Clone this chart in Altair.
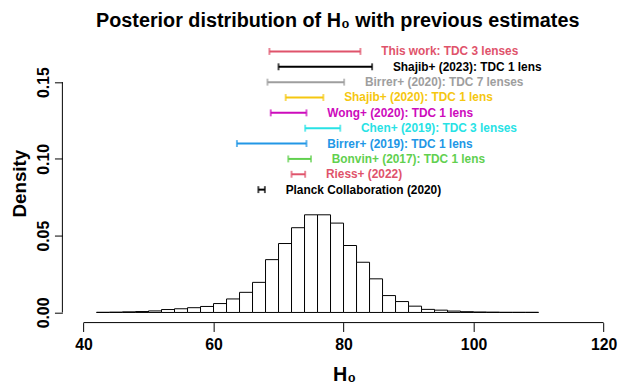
import altair as alt
import pandas as pd

# ---- histogram of the H0 posterior (bin edges, density) ----
bin_start = [42, 44, 46, 48, 50, 52, 54, 56, 58, 60, 62, 64, 66, 68, 70, 72, 74,
             76, 78, 80, 82, 84, 86, 88, 90, 92, 94, 96, 98, 100, 102, 104, 106, 108]
bin_end = [44, 46, 48, 50, 52, 54, 56, 58, 60, 62, 64, 66, 68, 70, 72, 74, 76,
           78, 80, 82, 84, 86, 88, 90, 92, 94, 96, 98, 100, 102, 104, 106, 108, 110]
density = [0.0001, 0.0002, 0.0004, 0.0006, 0.0010, 0.0019, 0.0024, 0.0031, 0.0039,
           0.0058, 0.0088, 0.0131, 0.0196, 0.0344, 0.0449, 0.0552, 0.0636, 0.0636,
           0.0582, 0.0436, 0.0327, 0.0219, 0.0110, 0.0071, 0.0041, 0.0020, 0.0015,
           0.0009, 0.0005, 0.0003, 0.0002, 0.0001, 0.0001, 0.0001]

# ---- previous estimates (interval and plotted height) ----
est_label = ["This work: TDC 3 lenses", "Shajib+ (2023): TDC 1 lens",
             "Birrer+ (2020): TDC 7 lenses", "Shajib+ (2020): TDC 1 lens",
             "Wong+ (2020): TDC 1 lens", "Chen+ (2019): TDC 3 lenses",
             "Birrer+ (2019): TDC 1 lens", "Bonvin+ (2017): TDC 1 lens",
             "Riess+ (2022)", "Planck Collaboration (2020)"]
est_lo = [68.6, 70.0, 68.3, 71.1, 68.8, 74.1, 63.6, 71.5, 72.0, 66.9]
est_hi = [82.6, 84.4, 80.1, 76.9, 74.3, 79.5, 74.3, 75.0, 74.1, 67.9]
est_y = [0.17, 0.16, 0.15, 0.14, 0.13, 0.12, 0.11, 0.10, 0.09, 0.08]
est_color = ["#DF536B", "#000000", "#9E9E9E", "#F5C710", "#CD0BBC",
             "#28E2E5", "#2297E6", "#61D04F", "#DF536B", "#000000"]

x_ticks = [40, 60, 80, 100, 120]
y_ticks = [0.0, 0.05, 0.10, 0.15]

FONT = "Liberation Sans"
W, H = 549, 282
XDOM = [36.75, 120.25]
YDOM = [-0.0066, 0.175]

hist = pd.DataFrame({"lo": bin_start, "hi": bin_end, "d": density})
est = pd.DataFrame({"label": est_label, "lo": est_lo, "hi": est_hi,
                    "y": est_y, "col": est_color})
xax = pd.DataFrame({"lo": [min(x_ticks)], "hi": [max(x_ticks)]})
yax = pd.DataFrame({"y": [min(y_ticks)], "y2": [max(y_ticks)]})

xs = alt.Scale(domain=XDOM, nice=False, zero=False)
ys = alt.Scale(domain=YDOM, nice=False, zero=False)

XAXIS = alt.Axis(
    values=x_ticks, format="d", domain=False, grid=False, tickSize=9,
    tickColor="black", tickWidth=1, labelFont=FONT, labelFontSize=16,
    labelFontWeight="bold", labelColor="black", labelPadding=5,
    labelBaseline="top", labelFlush=False, labelOverlap=False,
    title="H₀", titleFont=FONT, titleFontSize=20, titleFontWeight="bold",
    titleColor="black", titleX=285, titleY=59, titleBaseline="alphabetic",
    titleAlign="center")
YAXIS = alt.Axis(
    values=y_ticks, format=".2f", domain=False, grid=False, tickSize=8,
    tickColor="black", tickWidth=1, labelFont=FONT, labelFontSize=16,
    labelFontWeight="bold", labelColor="black", labelAngle=-90,
    labelAlign="center", labelBaseline="bottom", labelPadding=3,
    labelFlush=False, labelOverlap=False,
    title="Density", titleFont=FONT, titleFontSize=19, titleFontWeight="bold",
    titleColor="black", titleAngle=-90, titleX=-52, titleY=H / 2,
    titleBaseline="top", titleAlign="center")


def X(field):
    return alt.X(field, type="quantitative", scale=xs, axis=XAXIS, title="H₀")


def Y(field):
    return alt.Y(field, type="quantitative", scale=ys, axis=YAXIS, title="Density")


bars = alt.Chart(hist).mark_bar(fill="white", stroke="black", strokeWidth=1).encode(
    x=X("lo"), x2="hi", y=Y("d"), y2=alt.datum(0))

x_line = alt.Chart(xax).mark_rule(color="black", strokeWidth=1).encode(
    x=X("lo"), x2="hi", y=alt.value(H))
y_line = alt.Chart(yax).mark_rule(color="black", strokeWidth=1).encode(
    y=Y("y"), y2="y2", x=alt.value(0))

cmap = alt.Color("col:N", scale=None, legend=None)

rules = alt.Chart(est).mark_rule(strokeWidth=2).encode(
    x=X("lo"), x2="hi", y=Y("y"), color=cmap)
cap_lo = alt.Chart(est).mark_tick(orient="vertical", size=7, thickness=2).encode(
    x=X("lo"), y=Y("y"), color=cmap)
cap_hi = alt.Chart(est).mark_tick(orient="vertical", size=7, thickness=2).encode(
    x=X("hi"), y=Y("y"), color=cmap)
labels = alt.Chart(est).mark_text(
    align="left", baseline="middle", dx=21, font=FONT, fontSize=12,
    fontWeight="bold").encode(
    x=X("hi"), y=Y("y"), text="label:N", color=cmap)

chart = alt.layer(bars, x_line, y_line, rules, cap_lo, cap_hi, labels).properties(
    width=W, height=H,
    title=alt.TitleParams("Posterior distribution of H₀ with previous estimates",
                          font=FONT, fontSize=20, fontWeight="bold", color="black",
                          anchor="middle", offset=13, dx=4),
    autosize=alt.AutoSizeParams(type="none"),
    padding={"left": 55, "top": 34, "right": 16, "bottom": 66},
    background="white",
).configure_view(strokeWidth=0, stroke="transparent")

chart.save("out.html", embed_options={"renderer": "svg", "actions": False})
